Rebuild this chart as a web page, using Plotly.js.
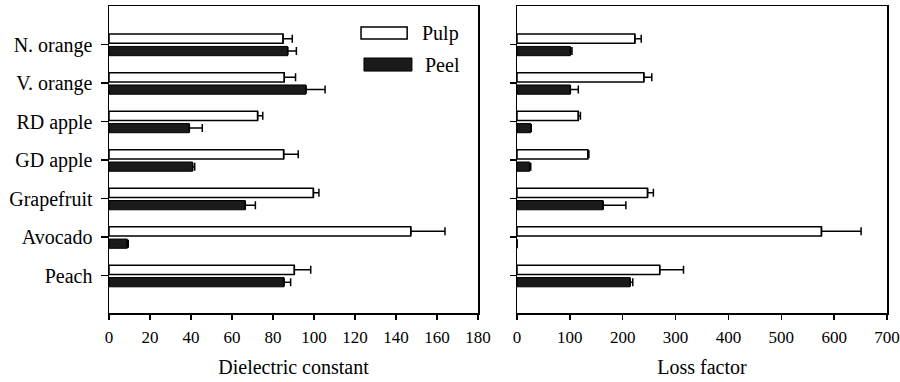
<!DOCTYPE html>
<html>
<head>
<meta charset="utf-8">
<script src="https://cdn.plot.ly/plotly-3.0.1.min.js"></script>
<style>html,body{margin:0;padding:0;background:#fff;}</style>
</head>
<body>
<div id="chart" style="width:900px;height:382px"></div>
<script>
// Categories, top to bottom as in the figure
const categories = ['N. orange', 'V. orange', 'RD apple', 'GD apple', 'Grapefruit', 'Avocado', 'Peach'];

// Dielectric constant
const dcPulp = [84.9, 85.5, 72.5, 85.2, 99.7, 147.2, 90.4];
const dcPulpErr = [4.5, 5.5, 2.5, 7.1, 2.7, 16.7, 8.0];
const dcPeel = [87.2, 96.1, 39.2, 40.8, 66.5, 8.9, 85.4];
const dcPeelErr = [4.2, 9.3, 6.3, 1.0, 4.9, 0.5, 3.2];

// Loss factor
const lfPulp = [223, 240, 116, 134, 247, 576, 270];
const lfPulpErr = [12, 15, 4, 2, 11, 75, 45];
const lfPeel = [101, 101, 26, 24, 163, 0, 214];
const lfPeelErr = [3, 15, 1, 2, 43, 0, 5];

const noMinus = [0, 0, 0, 0, 0, 0, 0];

const xTicksLeft = [0, 20, 40, 60, 80, 100, 120, 140, 160, 180];
const xTicksRight = [0, 100, 200, 300, 400, 500, 600, 700];

const legendNames = ['Pulp', 'Peel'];

const FONT = 'Liberation Serif';
const INK = '#000000';

function errX(arr) {
  return {type: 'data', symmetric: false, array: arr, arrayminus: noMinus,
          color: INK, thickness: 1.5, width: 4};
}
const pulpMarker = {color: '#ffffff', line: {color: INK, width: 1.5}};
const peelMarker = {color: '#1a1a1a', line: {color: INK, width: 1}};

const traces = [
  {type: 'bar', orientation: 'h', name: legendNames[0], y: categories, x: dcPulp,
   error_x: errX(dcPulpErr), marker: pulpMarker, offset: 0.03, width: 0.24,
   xaxis: 'x', yaxis: 'y', showlegend: false},
  {type: 'bar', orientation: 'h', name: legendNames[1], y: categories, x: dcPeel,
   error_x: errX(dcPeelErr), marker: peelMarker, offset: -0.29, width: 0.24,
   xaxis: 'x', yaxis: 'y', showlegend: false},
  {type: 'bar', orientation: 'h', name: legendNames[0], y: categories, x: lfPulp,
   error_x: errX(lfPulpErr), marker: pulpMarker, offset: 0.03, width: 0.24,
   xaxis: 'x2', yaxis: 'y2', showlegend: false},
  {type: 'bar', orientation: 'h', name: legendNames[1], y: categories, x: lfPeel,
   error_x: errX(lfPeelErr), marker: peelMarker, offset: -0.29, width: 0.24,
   xaxis: 'x2', yaxis: 'y2', showlegend: false}
];

function axisCommon() {
  return {
    showline: true, mirror: true, linecolor: INK, linewidth: 1.5,
    ticks: 'outside', ticklen: 5, tickwidth: 1.5, tickcolor: INK,
    showgrid: false, zeroline: false
  };
}
const revCats = categories.slice().reverse();

const layout = {
  width: 900, height: 382,
  margin: {l: 0, r: 0, t: 6, b: 69},
  paper_bgcolor: '#fff', plot_bgcolor: '#fff',
  barmode: 'overlay',
  xaxis: Object.assign(axisCommon(), {
    domain: [109/900, 478/900], range: [0, 180], tickvals: xTicksLeft,
    tickfont: {family: FONT, size: 17, color: INK}, anchor: 'y', ticklabelstandoff: 3,
    title: {text: 'Dielectric constant', font: {family: FONT, size: 20, color: INK}, standoff: 14}
  }),
  yaxis: Object.assign(axisCommon(), {
    type: 'category', categoryorder: 'array', categoryarray: revCats,
    range: [-0.97, 7.0], tickfont: {family: FONT, size: 20, color: INK}, anchor: 'x',
    ticklen: 7, ticklabelstandoff: 4
  }),
  xaxis2: Object.assign(axisCommon(), {
    domain: [517/900, 887/900], range: [0, 700], tickvals: xTicksRight,
    tickfont: {family: FONT, size: 17, color: INK}, anchor: 'y2', ticklabelstandoff: 3,
    title: {text: 'Loss factor', font: {family: FONT, size: 20, color: INK}, standoff: 14}
  }),
  yaxis2: Object.assign(axisCommon(), {
    type: 'category', categoryorder: 'array', categoryarray: revCats,
    range: [-0.97, 7.0], showticklabels: false, anchor: 'x2', ticklen: 6
  }),
  shapes: [
    {type: 'rect', xref: 'x domain', yref: 'y domain', x0: 0.683, x1: 0.808, y0: 0.8925, y1: 0.932,
     fillcolor: '#fff', line: {color: INK, width: 1.5}},
    {type: 'rect', xref: 'x domain', yref: 'y domain', x0: 0.691, x1: 0.821, y0: 0.788, y1: 0.8306,
     fillcolor: '#1a1a1a', line: {color: INK, width: 1}}
  ],
  annotations: [
    {xref: 'x domain', yref: 'y domain', x: 0.843, y: 0.912, xanchor: 'left', yanchor: 'middle',
     text: legendNames[0], showarrow: false, font: {family: FONT, size: 20, color: INK}},
    {xref: 'x domain', yref: 'y domain', x: 0.851, y: 0.809, xanchor: 'left', yanchor: 'middle',
     text: legendNames[1], showarrow: false, font: {family: FONT, size: 20, color: INK}}
  ]
};

Plotly.newPlot('chart', traces, layout, {displayModeBar: false, staticPlot: true});
</script>
</body>
</html>
